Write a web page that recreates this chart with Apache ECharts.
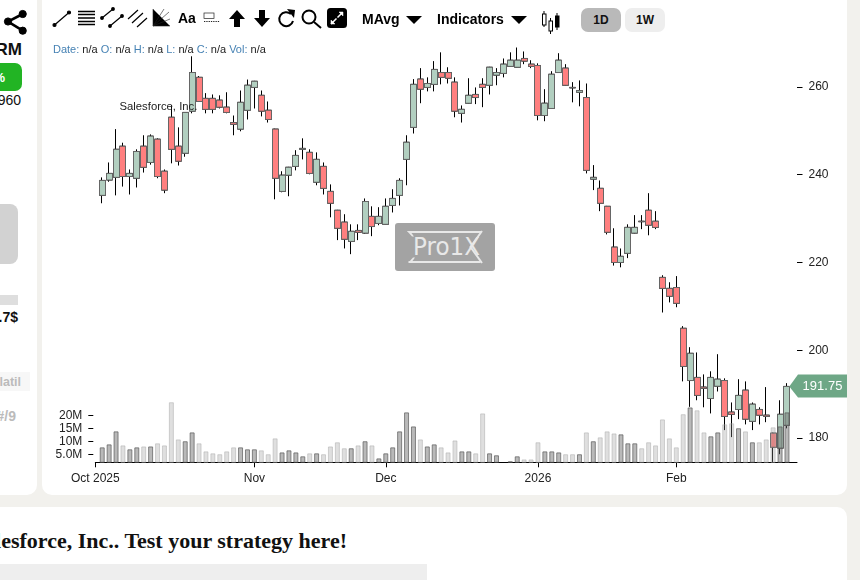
<!DOCTYPE html>
<html>
<head>
<meta charset="utf-8">
<script src="https://cdn.jsdelivr.net/npm/echarts@6/dist/echarts.min.js"></script>
<style>
  html, body { margin: 0; padding: 0; width: 860px; height: 580px; overflow: hidden; background: #f2f1ed; font-family: "Liberation Sans", Arial, sans-serif; color: #111; }
  .panel { position: absolute; background: #fff; }
  .abs { position: absolute; white-space: nowrap; }
  .r { text-align: right; }
  .b { font-weight: bold; }
  #main { position: absolute; left: 0; top: 0; width: 860px; height: 580px; }
  #info span { color: #4682b4; }
  .btn { position: absolute; top: 8px; width: 40px; height: 24px; line-height: 24px; border-radius: 7px; text-align: center; font-size: 12px; font-weight: bold; }
</style>
</head>
<body>
<!-- left panel -->
<div class="panel" style="left:-20px;top:-10px;width:57px;height:505px;border-radius:10px"></div>
<svg class="abs" style="left:0;top:0" width="37" height="40" fill="#000" stroke="#000">
  <path d="M22.7 14L8 21.5L22.7 30.7" fill="none" stroke-width="2.6"/>
  <circle cx="22.7" cy="14" r="3.6"/><circle cx="8" cy="21.5" r="3.6"/><circle cx="22.7" cy="30.7" r="3.6"/>
</svg>
<div class="abs b r" style="right:838px;top:40px;font-size:17px">RM</div>
<div class="abs" style="left:-10px;top:63px;width:32px;height:28px;background:#22b424;border-radius:7px"></div>
<div class="abs b r" style="right:855px;top:70px;font-size:13px;color:#fff">%</div>
<div class="abs r" style="right:839px;top:92px;font-size:14px">960</div>
<div class="abs" style="left:-10px;top:204px;width:28px;height:60px;background:#d2d2d2;border-radius:8px"></div>
<div class="abs" style="left:0;top:295px;width:18px;height:10px;background:#dedede"></div>
<div class="abs b r" style="right:842px;top:309px;font-size:14px">.7$</div>
<div class="abs" style="left:0;top:372px;width:30px;height:19px;background:#f7f7f7"></div>
<div class="abs b r" style="right:839px;top:375px;font-size:12.5px;color:#bbb">latil</div>
<div class="abs b r" style="right:844px;top:408px;font-size:14px;color:#bbb">#/9</div>

<!-- chart panel -->
<div class="panel" style="left:42px;top:-10px;width:805px;height:505px;border-radius:10px"></div>

<!-- bottom panel -->
<div class="panel" style="left:-20px;top:507px;width:867px;height:90px;border-radius:10px"></div>
<div class="abs b r" style="right:513px;top:527.500px;font-family:'Liberation Serif',serif;font-size:22px">Salesforce, Inc.. Test your strategy here!</div>
<div class="abs" style="left:0;top:564px;width:427px;height:16px;background:#eee"></div>

<!-- watermark sits under the marks -->
<svg class="abs" style="left:395px;top:223px" width="100" height="48">
  <rect width="100" height="48" rx="3" fill="#a3a3a3"/>
  <g fill="#e8e8e8">
    <path d="M12 8H87L85 10H15Z"/>
    <path d="M13 38H87L85 40H15Z"/>
    <path d="M12 8L17 13.500L19 13.500L15 8Z"/>
    <path d="M13 40L18 34.500L20 34.500L16 40Z"/>
  </g>
  <path d="M87 8L75.500 24L87 40" fill="none" stroke="#e8e8e8" stroke-width="2"/>
  <text x="18" y="32" font-family="DejaVu Sans" font-size="24" fill="#e8e8e8" textLength="67" lengthAdjust="spacingAndGlyphs">Pro1X</text>
</svg>

<div id="main"></div>

<div class="abs" style="left:119.500px;top:100px;font-size:11.300px;color:#222">Salesforce, Inc.</div>

<!-- toolbar -->
<svg class="abs" style="left:0;top:0" width="570" height="40" fill="#000" stroke="#000" stroke-width="1.200">
  <g>
    <path d="M54.500 25L69 12.500"/><circle cx="54.500" cy="25" r="1.500"/><circle cx="69" cy="12.500" r="1.500"/>
  </g>
  <g stroke-width="1.300">
    <path d="M78 11.500H95M78 14.500H95M78 18H95M78 21.500H95M78 24.500H95"/>
  </g>
  <g>
    <path d="M102 18L113 9M110 26L122 16"/>
    <circle cx="102" cy="18" r="1.300"/><circle cx="113" cy="9" r="1.300"/><circle cx="110" cy="26" r="1.300"/><circle cx="122" cy="16" r="1.300"/>
  </g>
  <g>
    <path d="M128 19L138 10M132 23L143 13M137 27L147 18"/>
  </g>
  <g stroke-width="0.600" stroke="#222">
    <path d="M153 9V26H170M153 26L164 9M153 26L169 12M153 26L170 19"/>
  </g>
  <text x="178" y="23" font-family="Liberation Sans" font-weight="bold" font-size="14" stroke="none">Aa</text>
  <g stroke-width="0.700" stroke="#222">
    <rect x="204" y="13" width="10" height="5.500" fill="none"/>
    <path d="M204 21.500H220" stroke-width="1.100" stroke-dasharray="1.300 1"/>
  </g>
  <path d="M237 10L245 19H240V27H234V19H229Z" stroke="none"/>
  <path d="M262 27L270 18H265V10H259V18H254Z" stroke="none"/>
  <g fill="none" stroke-width="2">
    <path d="M291 14A7 7 0 1 0 293 21"/>
  </g>
  <path d="M287 9L295 10L294 18Z" stroke="none"/>
  <g fill="none" stroke-width="2">
    <circle cx="309" cy="17" r="6.500"/><path d="M314 22L321 28"/>
  </g>
  <rect x="327" y="8" width="20" height="20" rx="3.500" stroke="none"/>
  <g stroke="#fff" fill="#fff" stroke-width="1.500">
    <path d="M331 24L336.500 18.500M342.500 12.500L337.500 17.500"/>
    <path d="M331 24V20L335 24Z M343 12V16L339 12Z" stroke-width="0.500"/>
  </g>
  <text x="362" y="24" font-family="Liberation Sans" font-weight="bold" font-size="14" stroke="none">MAvg</text>
  <path d="M406 16H422L414 24Z" stroke="none"/>
  <text x="437" y="24" font-family="Liberation Sans" font-weight="bold" font-size="14" stroke="none">Indicators</text>
  <path d="M511 16H527L519 24Z" stroke="none"/>
  <g fill="#fff" stroke-width="1">
    <path d="M544 11V27M550.500 18V34M557 13V30" fill="none"/>
    <rect x="542.500" y="14" width="3.500" height="11"/><rect x="549" y="21" width="3.500" height="10"/>
    <rect x="555.500" y="16" width="3.500" height="11" fill="#000"/>
  </g>
</svg>
<div class="btn" style="left:581px;background:#b9b9b9">1D</div>
<div class="btn" style="left:625px;background:#eee">1W</div>
<div id="info" class="abs" style="left:53px;top:43px;font-size:11px;color:#222">
  <span>Date:</span> n/a <span>O:</span> n/a <span>H:</span> n/a <span>L:</span> n/a <span>C:</span> n/a <span>Vol:</span> n/a
</div>

<script>
// daily bars from 2 Oct 2025, position 0 is 1 Oct (first tick)
const opens = [
  235.3, 238.8, 239.4, 246.5, 239.6, 239.2, 246.5, 242.8, 248.1, 240.8,
  253.1, 246.5, 244.9, 254.5, 262.2, 257.4, 257.4, 257.0, 255.4, 251.9,
  250.4, 254.7, 259.9, 258.1, 254.7, 250.4, 236.2, 239.9, 241.9, 245.8,
  245.1, 238.3, 241.9, 236.2, 231.9, 229.2, 224.8, 227.3, 226.7, 230.5,
  228.9, 228.7, 233.0, 235.3, 243.5, 250.8, 261.8, 259.9, 260.6, 263.3,
  263.3, 261.1, 254.0, 256.3, 258.3, 260.6, 260.4, 262.7, 263.1, 264.7,
  264.5, 266.5, 265.2, 264.9, 253.5, 255.1, 263.3, 264.3, 259.9, 258.8,
  257.6, 239.0, 236.9, 232.8, 223.5, 220.0, 222.1, 226.7, 229.4, 231.9,
  229.4, 216.6, 214.1, 214.3, 205.0, 193.1, 193.8, 191.6, 189.0, 191.8,
  193.1, 185.9, 186.5, 190.9, 183.8, 186.5, 185.2, 181.1, 177.7, 182.9
];
const closes = [
  238.7, 240.3, 245.8, 239.6, 240.3, 245.3, 241.7, 248.8, 239.6, 236.5,
  245.8, 243.1, 254.2, 263.3, 256.7, 254.9, 254.9, 255.4, 254.2, 251.5,
  256.5, 260.4, 261.3, 254.5, 252.6, 239.2, 239.9, 241.7, 244.4, 246.0,
  240.3, 243.5, 236.9, 233.5, 227.8, 225.3, 227.1, 226.9, 233.9, 228.2,
  230.5, 232.8, 234.6, 238.7, 247.4, 260.6, 259.5, 260.8, 264.0, 262.2,
  262.0, 254.5, 254.9, 258.1, 257.6, 259.9, 264.5, 263.3, 265.2, 266.1,
  266.1, 265.9, 264.7, 253.5, 256.3, 262.9, 266.1, 260.4, 259.8, 259.2,
  241.0, 239.4, 233.5, 226.9, 220.0, 221.4, 228.0, 228.0, 229.3, 228.5,
  228.0, 214.1, 212.3, 210.7, 196.3, 199.3, 189.7, 191.3, 193.8, 193.4,
  184.9, 185.4, 189.7, 184.3, 187.7, 185.2, 184.9, 177.9, 185.4, 191.75
];
const lows = [
  233.5, 238.4, 235.3, 237.3, 235.5, 237.1, 240.5, 242.3, 239.2, 235.8,
  242.6, 242.1, 244.1, 254.0, 256.6, 254.0, 254.0, 255.1, 254.0, 249.0,
  249.9, 252.6, 255.1, 253.3, 251.9, 234.4, 236.0, 235.1, 241.0, 243.5,
  240.1, 237.6, 235.5, 230.3, 225.1, 223.2, 221.9, 225.1, 226.5, 226.0,
  228.5, 228.6, 231.4, 233.0, 237.6, 249.4, 256.3, 259.0, 259.0, 260.6,
  260.8, 253.1, 251.9, 256.2, 256.1, 255.4, 258.3, 260.4, 262.2, 264.6,
  264.4, 265.2, 264.3, 252.4, 252.2, 255.0, 263.2, 260.3, 256.5, 255.6,
  240.3, 236.5, 231.7, 226.4, 219.3, 218.9, 221.0, 226.6, 227.6, 226.2,
  227.6, 208.6, 210.9, 209.8, 192.9, 187.1, 188.6, 187.0, 185.6, 190.6,
  181.8, 180.2, 184.3, 183.1, 181.8, 183.1, 183.6, 174.5, 176.3, 182.2
];
const highs = [
  239.4, 242.8, 250.4, 247.3, 241.2, 245.8, 249.0, 249.2, 248.3, 241.2,
  255.9, 250.8, 254.3, 267.0, 262.5, 258.6, 258.3, 258.1, 258.8, 253.5,
  259.2, 261.7, 261.4, 259.2, 256.7, 250.5, 240.8, 241.8, 245.6, 248.3,
  245.8, 245.1, 242.8, 237.8, 232.0, 231.0, 228.7, 228.7, 234.6, 232.8,
  232.6, 234.6, 236.7, 239.2, 249.0, 261.8, 264.3, 262.2, 265.9, 267.9,
  264.5, 262.2, 255.8, 262.0, 259.9, 262.0, 264.6, 264.3, 266.5, 267.9,
  269.0, 268.1, 266.1, 265.4, 259.5, 263.6, 267.7, 265.2, 261.1, 261.5,
  260.8, 242.2, 238.7, 232.9, 227.8, 223.2, 228.7, 230.8, 230.8, 235.8,
  231.7, 217.1, 215.5, 216.9, 205.5, 200.7, 199.5, 194.5, 195.2, 199.1,
  193.6, 188.1, 193.4, 192.9, 188.1, 187.0, 191.6, 181.2, 188.6, 192.5
];
// millions of shares
const volumes = [
  7.65, 8.8, 13.8, 8.4, 6.9, 7.65, 8.0, 8.0, 9.2, 8.4,
  25.0, 10.7, 10.0, 13.4, 9.2, 6.1, 5.35, 5.0, 6.1, 7.65,
  7.65, 6.9, 6.9, 6.5, 5.0, 11.1, 5.7, 6.5, 5.7, 4.2,
  5.35, 5.35, 5.0, 8.0, 9.6, 7.3, 7.3, 8.4, 10.0, 8.4,
  3.4, 5.35, 7.65, 13.8, 21.1, 15.7, 10.7, 8.0, 8.8, 7.65,
  5.7, 10.3, 6.1, 6.1, 5.35, 20.7, 5.35, 4.6, 1.9, 2.3,
  4.2, 3.0, 3.0, 9.6, 6.1, 6.1, 5.7, 5.0, 5.0, 5.0,
  13.4, 10.0, 11.5, 13.8, 13.0, 12.65, 9.2, 9.2, 7.3, 9.6,
  8.4, 18.4, 11.1, 7.65, 20.4, 23.0, 21.9, 13.4, 11.9, 13.4,
  16.5, 16.9, 15.0, 13.8, 9.6, 9.6, 10.7, 15.35, 15.7, 21.1
];
const monthTicks = [0, 23, 42, 64, 84];
const monthLabels = ['Oct 2025', 'Nov', 'Dec', '2026', 'Feb'];
const priceTicks = [180, 200, 220, 240, 260];
const volumeTicks = [5, 10, 15, 20];
const volumeLabels = ['5.0M', '10M', '15M', '20M'];
const lastPrice = 191.75;

const FONT = 'Liberation Sans';
const chart = echarts.init(document.getElementById('main'), null, { renderer: 'canvas' });

// full wicks are black, the second series only redraws the bodies with a grey edge
const wickData = opens.map((o, i) => [i + 1, o, closes[i], lows[i], highs[i]]);
const bodyData = opens.map((o, i) => [i + 1, o, closes[i], Math.min(o, closes[i]), Math.max(o, closes[i])]);
const volumeData = volumes.map((v, i) => {
  const up = closes[i] >= opens[i];
  return {
    value: [i + 1, v],
    itemStyle: up
      ? { color: 'rgba(100,100,100,0.45)', borderColor: 'rgba(90,90,90,0.7)', borderWidth: 1 }
      : { color: 'rgba(150,150,150,0.3)', borderColor: 'rgba(170,170,170,0.5)', borderWidth: 1 }
  };
});

chart.setOption({
  animation: false,
  backgroundColor: 'transparent',
  grid: { left: 95.3, right: 63, top: 44, bottom: 117.7 },
  xAxis: {
    type: 'value',
    min: 0,
    max: 101.45,
    splitLine: { show: false },
    axisLine: { onZero: false, lineStyle: { color: '#000', width: 1 } },
    axisTick: { length: 5, customValues: monthTicks, lineStyle: { color: '#000' } },
    axisLabel: {
      customValues: monthTicks,
      formatter: (v) => monthLabels[monthTicks.indexOf(v)],
      color: '#222',
      fontFamily: FONT,
      fontSize: 12,
      margin: 10
    }
  },
  yAxis: [
    {
      type: 'value',
      position: 'right',
      min: 174.46,
      max: 269.8,
      splitLine: { show: false },
      axisLine: { show: false, onZero: false },
      axisTick: { show: true, length: 5.5, customValues: priceTicks, lineStyle: { color: '#000' } },
      axisLabel: { customValues: priceTicks, color: '#222', fontFamily: FONT, fontSize: 12, margin: 11.5, padding: [4, 0, 0, 0] }
    },
    {
      type: 'value',
      position: 'left',
      offset: 2,
      min: 1.9,
      max: 162.8,
      splitLine: { show: false },
      axisLine: { show: false, onZero: false },
      axisTick: { show: true, length: 5, customValues: volumeTicks, lineStyle: { color: '#000' } },
      axisLabel: {
        customValues: volumeTicks,
        formatter: (v) => volumeLabels[volumeTicks.indexOf(v)],
        color: '#222',
        fontFamily: FONT,
        fontSize: 12,
        margin: 11,
        padding: [2, 0, 0, 0]
      }
    }
  ],
  series: [
    {
      name: 'wicks',
      type: 'candlestick',
      yAxisIndex: 0,
      barWidth: 6.5,
      z: 2,
      data: wickData,
      itemStyle: {
        color: '#b2cfc0', color0: '#ff7f7f',
        borderColor: '#000', borderColor0: '#000', borderColorDoji: '#000', borderWidth: 1
      }
    },
    {
      name: 'bodies',
      type: 'candlestick',
      yAxisIndex: 0,
      barWidth: 6.5,
      z: 3,
      data: bodyData,
      itemStyle: {
        color: '#b2cfc0', color0: '#ff7f7f',
        borderColor: '#666', borderColor0: '#666', borderColorDoji: '#666', borderWidth: 1
      }
    },
    {
      name: 'volume',
      type: 'bar',
      yAxisIndex: 1,
      barWidth: 5,
      z: 4,
      data: volumeData
    }
  ]
});

// last price flag on the right of the axis
const tagY = chart.convertToPixel({ yAxisIndex: 0 }, lastPrice);
chart.setOption({
  graphic: [
    {
      type: 'polygon',
      z: 10,
      shape: { points: [[789.3, tagY], [798, tagY - 12], [847, tagY - 12], [847, tagY + 11], [798, tagY + 11]] },
      style: { fill: '#6ea786' }
    },
    {
      type: 'text',
      z: 11,
      x: 822.5,
      y: tagY,
      style: { text: lastPrice.toFixed(2), fill: '#fff', font: '13px "' + FONT + '"', align: 'center', verticalAlign: 'middle' }
    }
  ]
});
</script>
</body>
</html>
